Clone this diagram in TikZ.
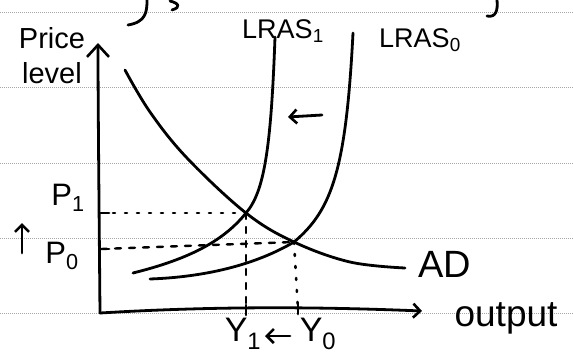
\documentclass[tikz,border=0pt]{standalone}
\usepackage{fontspec}
\setmainfont{Liberation Sans}
\usetikzlibrary{arrows.meta}
\begin{document}
\begin{tikzpicture}[x=1pt,y=-1pt,
  ink/.style={line width=2.8pt, line cap=round, line join=round, black},
  rule/.style={gray!70, line width=0.9pt, dash pattern=on 1pt off 1pt},
  guide/.style={line width=2.6pt, line cap=round, dash pattern=on 2pt off 10pt},
  guidedash/.style={line width=2.4pt, line cap=round, dash pattern=on 6pt off 8pt},
  lab/.style={inner sep=0pt, font=\fontsize{29}{29}\selectfont},
  barb/.style={-{Straight Barb[length=7pt,width=14pt,line width=2.6pt]}}
]
\useasboundingbox (0,0) rectangle (573,354);
\fill[white] (0,0) rectangle (573,354);
% ruled lines
\foreach \yy in {12,87.5,163,238,313}
  \draw[rule] (0,\yy) -- (573,\yy);
% cut-off handwriting at the top
\draw[ink] (147,0) .. controls (147,12) and (146,22) .. (128,25);
\draw[ink] (170,1) .. controls (178,3) and (182,7) .. (172,10);
\draw[ink] (497,0) .. controls (498,10) and (496,18) .. (487,16);
% named points
\coordinate (O) at (100,313);
\coordinate (ytop) at (98,43);
\coordinate (xend) at (422,311);
\coordinate (P1) at (246,213);
\coordinate (P0) at (294,242);
\coordinate (p1ax) at (101,213);
\coordinate (p0ax) at (101,249);
\coordinate (y1ax) at (246,311);
\coordinate (y0ax) at (298,310);
% axes
\draw[ink, -{Straight Barb[length=12pt,width=22pt,line width=2.6pt]}] (O) .. controls (99,200) and (98,100) .. (ytop);
\draw[ink, barb] (O) .. controls (200,307) and (300,306) .. (xend);
% ticks
\draw[ink] (p1ax) -- ++(8,0);
\draw[ink] (p0ax) -- ++(8,0);
\draw[ink] (y1ax) ++(0,-6) -- ++(0,10);
\draw[ink] (y0ax) ++(0,-6) -- ++(0,10);
% guides
\draw[guide] (p1ax) -- (P1);
\draw[guidedash] (p0ax) -- (P0);
\draw[guidedash] (P1) -- (y1ax);
\draw[guide] (P0) -- (y0ax);
% curves
\draw[ink] (275,37) .. controls (271,150) and (264,192) .. (P1)
           .. controls (222,243) and (185,260) .. (133,273);
\draw[ink] (353,33) .. controls (346,170) and (332,210) .. (P0)
           .. controls (255,265) and (205,277) .. (150,279);
\draw[ink] plot[smooth, tension=0.6] coordinates {(125,70) (150,112) (187,158) (P1) (P0) (350,262) (405,268)};
% arrows
\draw[ink, barb] (322,115) -- (288,117);
\draw[ink, barb] (290,336) -- (265,336);
\draw[ink, barb] (22,253) -- (22,223);
% labels
\node[lab] (price) at (52,38) {Price};
\node[lab] (level) at (52,73) {level};
\node[lab, font=\fontsize{27}{27}\selectfont] (lras1) at (283,31) {LRAS\textsubscript{1}};
\node[lab, font=\fontsize{27}{27}\selectfont] (lras0) at (420,40) {LRAS\textsubscript{0}};
\node[lab, font=\fontsize{31}{31}\selectfont] (P1l) at (68,198) {P\textsubscript{1}};
\node[lab, font=\fontsize{31}{31}\selectfont] (P0l) at (62,256) {P\textsubscript{0}};
\node[lab, font=\fontsize{38}{38}\selectfont] (ad) at (445,264) {AD};
\node[lab, font=\fontsize{37}{37}\selectfont] (out) at (506,318) {output};
\node[lab, font=\fontsize{34}{34}\selectfont] (y1) at (243,334) {Y\textsubscript{1}};
\node[lab, font=\fontsize{34}{34}\selectfont] (y0) at (318,334) {Y\textsubscript{0}};
\end{tikzpicture}
\end{document}
